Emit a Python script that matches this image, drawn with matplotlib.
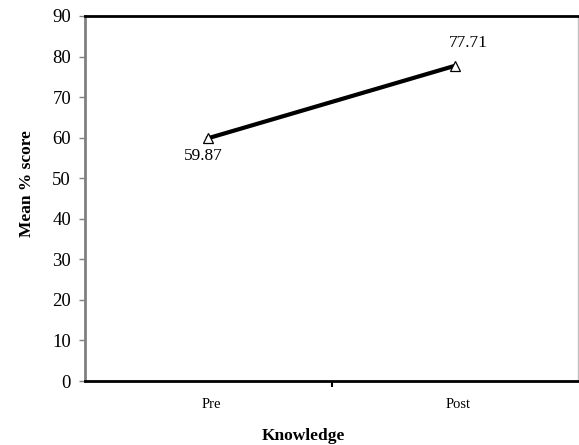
import matplotlib
matplotlib.use("Agg")
import matplotlib.pyplot as plt

categories = ["Pre", "Post"]
mean_scores = [59.87, 77.71]
y_ticks = [0, 10, 20, 30, 40, 50, 60, 70, 80, 90]

plt.rcParams['font.family'] = ['Liberation Serif', 'DejaVu Serif']

fig = plt.figure(figsize=(5.79, 4.45), dpi=100)
ax = fig.add_axes([85 / 579, 1 - 381 / 445, 493 / 579, 365 / 445])

x = list(range(len(categories)))
ax.plot(x, mean_scores, color='black', linewidth=3, marker='^',
        markersize=7, markerfacecolor='white', markeredgecolor='black',
        markeredgewidth=0.9, zorder=3)

# value labels: first below its point, second above and to the right
ax.annotate(f"{mean_scores[0]:.2f}", (x[0], mean_scores[0]), xytext=(-3.5, -7),
            textcoords='offset points', ha='center', va='top', fontsize=12.5)
ax.annotate(f"{mean_scores[1]:.2f}", (x[1], mean_scores[1]), xytext=(9.5, 11),
            textcoords='offset points', ha='center', va='bottom', fontsize=12.5)

ax.set_xlim(-0.5, 1.5)
ax.set_ylim(0, 90)
ax.set_yticks(y_ticks)
ax.tick_params(axis='y', labelsize=13.5, color='#808080', length=4, width=1, pad=6)

# category labels sit under each point, tick mark between them
ax.set_xticks([0.5])
ax.set_xticklabels([""])
ax.tick_params(axis='x', length=4, width=1.5, color='black')
for xi, name in zip(x, categories):
    ax.annotate(name, (xi, 0), xytext=(2.5, -12), textcoords='offset points',
                ha='center', va='top', fontsize=10.5, annotation_clip=False)

ax.spines['top'].set_color('black')
ax.spines['top'].set_linewidth(2)
ax.spines['bottom'].set_color('black')
ax.spines['bottom'].set_linewidth(2)
ax.spines['left'].set_color('#808080')
ax.spines['left'].set_linewidth(2)
ax.spines['right'].set_color('#c0c0c0')
ax.spines['right'].set_linewidth(1)

fig.text(27 / 579, 1 - 184 / 445, "Mean % score", rotation=90, ha='center',
         va='center', fontsize=12.5, fontweight='bold')
fig.text(303 / 579, 1 - 436 / 445, "Knowledge", ha='center', va='center',
         fontsize=12.5, fontweight='bold')

fig.savefig("out.png", dpi=100)
